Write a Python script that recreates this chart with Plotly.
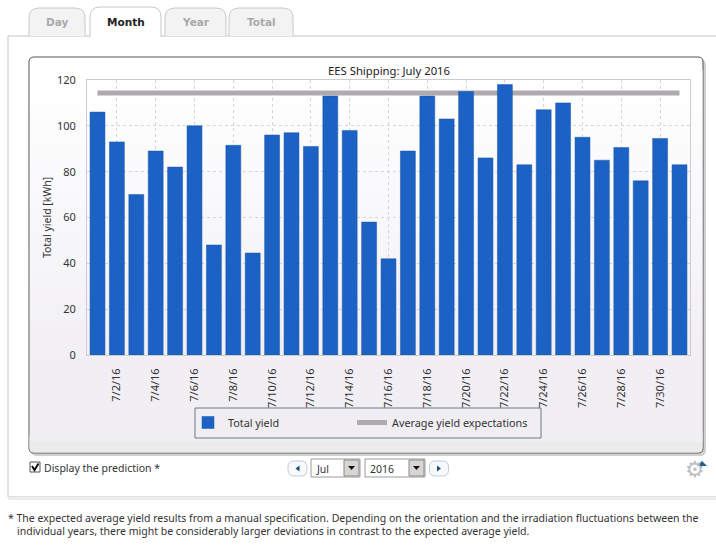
import plotly.graph_objects as go

W, H = 716, 547

# Valores
dias = [f"7/{d}/16" for d in range(1, 32)]
total_yield = [106, 93, 70, 89, 82, 100, 48, 91.5, 44.5, 96, 97, 91, 113, 98, 58, 42,
               89, 113, 103, 115, 86, 118, 83, 107, 110, 95, 85, 90.5, 76, 94.5, 83]
expectativa = [114.3] * 31
dias_ticks = dias[1::2]
y_ticks = [0, 20, 40, 60, 80, 100, 120]

abas = [("Day", 29, 85, 8, 36, "#f3f3f3", "#a9a9a9"),
        ("Month", 90, 161, 7, 37, "#ffffff", "#222222"),
        ("Year", 165, 226, 8, 36, "#f3f3f3", "#a9a9a9"),
        ("Total", 229, 293, 8, 36, "#f3f3f3", "#a9a9a9")]

FONTE = "Noto Sans"
FAIXA_X = [-0.541, 30.541]


def px(x):
    return x / W


def py(y):
    return 1 - y / H


def retangulo(x0, y0, x1, y1, fill="rgba(0,0,0,0)", line="rgba(0,0,0,0)", lw=1, layer="below"):
    return dict(type="rect", xref="paper", yref="paper", x0=px(x0), x1=px(x1), y0=py(y0), y1=py(y1),
                fillcolor=fill, line=dict(color=line, width=lw), layer=layer)


def caminho(pontos, fill="rgba(0,0,0,0)", line="rgba(0,0,0,0)", lw=1, layer="below"):
    # pontos em pixels da página
    d = ""
    for cmd, *xy in pontos:
        d += cmd
        for i in range(0, len(xy), 2):
            d += f"{px(xy[i]):.5f},{py(xy[i + 1]):.5f} "
    return dict(type="path", xref="paper", yref="paper", path=d.strip(), fillcolor=fill,
                line=dict(color=line, width=lw), layer=layer)


def caixa_redonda(x0, y0, x1, y1, r, **kw):
    return caminho([("M", x0 + r, y0), ("L", x1 - r, y0), ("Q", x1, y0, x1, y0 + r), ("L", x1, y1 - r),
                    ("Q", x1, y1, x1 - r, y1), ("L", x0 + r, y1), ("Q", x0, y1, x0, y1 - r),
                    ("L", x0, y0 + r), ("Q", x0, y0, x0 + r, y0), ("Z",)], **kw)


def texto(x, y, s, size=10.5, color="#333333", anchor="left", bold=False, family=FONTE):
    return dict(xref="paper", yref="paper", x=px(x), y=py(y), text=f"<b>{s}</b>" if bold else s,
                showarrow=False, xanchor=anchor, yanchor="middle",
                font=dict(family=family, size=size, color=color))


fig = go.Figure()

# Linha da expectativa média (fica atrás das barras)
fig.add_trace(go.Scatter(x=dias, y=expectativa, mode="lines", name="Average yield expectations",
                         line=dict(color="#aeaaae", width=5), legend="legend2"))

# Barras, em eixos sobrepostos para ficarem por cima da linha
fig.add_trace(go.Bar(x=dias, y=total_yield, name="Total yield", width=0.77, xaxis="x2", yaxis="y2",
                     marker=dict(color="#1c62c4", line=dict(color="#1a55a8", width=0.5))))

shapes = []
anot = []

# Painel externo
shapes.append(retangulo(8, 36, 720, 497, fill="#ffffff", line="#c4c4c4"))
shapes.append(retangulo(8, 497, 720, 500, fill="#ececec"))

# Abas
for nome, x0, x1, y0, y1, fundo, cor in abas:
    r = 10
    shapes.append(caminho([("M", x0, y1), ("L", x0, y0 + r), ("Q", x0, y0, x0 + r, y0), ("L", x1 - r, y0),
                           ("Q", x1, y0, x1, y0 + r), ("L", x1, y1)], fill=fundo, line="#c8c8c8"))
    anot.append(texto((x0 + x1) / 2, 22, nome, size=10.5, color=cor, anchor="center", bold=True, family="DejaVu Sans"))

# Cartão do gráfico com degradê em faixas
shapes.append(caixa_redonda(31, 59, 706, 456, 6, fill="#d0d0d0"))
shapes.append(caixa_redonda(29, 57, 703, 453, 5, fill="#ffffff", line="#555555"))
n_faixas = 24
for i in range(n_faixas):
    y0 = 70 + i * (370 - 70) / n_faixas
    y1 = 70 + (i + 1) * (370 - 70) / n_faixas
    t = i / (n_faixas - 1)
    c = f"rgb({round(255 - 14 * t)},{round(255 - 16 * t)},{round(255 - 11 * t)})"
    shapes.append(retangulo(30, y0, 702.5, y1 + 0.5, fill=c))
shapes.append(retangulo(30, 370, 702.5, 435, fill="#f1eff4"))
shapes.append(caixa_redonda(29.5, 432, 702.5, 452.5, 5, fill="#ebebeb"))
shapes.append(retangulo(30, 432, 702.5, 442, fill="#efeef1"))
shapes.append(retangulo(195, 408, 541, 438, fill="#f0eef3", line="#6f7a86"))

# Controles abaixo do gráfico
shapes.append(retangulo(30, 462, 40, 472, fill="#ffffff", line="#555555"))
shapes.append(caminho([("M", 32, 466), ("L", 34.5, 470), ("L", 38.5, 463.5)], line="#111111", lw=2))
anot.append(texto(42, 468, "Display the prediction *"))

for cx, sinal in ((297.5, -1), (439, 1)):
    shapes.append(caixa_redonda(cx - 9.5, 461, cx + 9.5, 476, 6, fill="#f7f9fb", line="#c3ccd4"))
    shapes.append(caminho([("M", cx - 2 * sinal, 465.5), ("L", cx + 2 * sinal, 468.5),
                           ("L", cx - 2 * sinal, 471.5), ("Z",)], fill="#1b4f85"))

for x0, x1, rotulo in ((311, 360, "Jul"), (365, 425, "2016")):
    shapes.append(retangulo(x0, 459, x1, 477, fill="#ffffff", line="#9a9a9a"))
    shapes.append(retangulo(x1 - 16, 460, x1 - 1, 476, fill="#d8d6d2", line="#8a8a8a"))
    shapes.append(caminho([("M", x1 - 12, 466), ("L", x1 - 5, 466), ("L", x1 - 8.5, 470), ("Z",)], fill="#111111"))
    anot.append(texto(x0 + 3, 468.5, rotulo))

# Ícone de engrenagem
anot.append(texto(695, 469, "⚙", size=22, color="#b9bdc0", anchor="center", family="DejaVu Sans"))
shapes.append(caminho([("M", 697, 466), ("L", 707, 466), ("L", 702, 461), ("Z",)], fill="#1b5f8f"))

# Nota de rodapé
anot.append(texto(6, 518, "* The expected average yield results from a manual specification. Depending on the orientation and the irradiation fluctuations between the"))
anot.append(texto(15, 531, "individual years, there might be considerably larger deviations in contrast to the expected average yield."))

grade = "#d6d6d6"
fonte_legenda = dict(family=FONTE, size=10.8, color="#333333")

fig.update_layout(
    width=W, height=H, autosize=False,
    margin=dict(l=0, r=0, t=0, b=0),
    paper_bgcolor="#ffffff",
    plot_bgcolor="rgba(0,0,0,0)",
    font=dict(family=FONTE, size=11, color="#333333"),
    title=dict(text="EES Shipping: July 2016", x=px(389), xanchor="center", y=py(71), yanchor="middle",
               font=dict(family=FONTE, size=11.3, color="#222222")),
    shapes=shapes,
    annotations=anot,
    showlegend=True,
    legend=dict(orientation="h", x=px(188), y=py(408), xanchor="left", yanchor="top",
                bgcolor="rgba(0,0,0,0)", borderwidth=0, font=fonte_legenda),
    legend2=dict(orientation="h", x=px(352), y=py(408), xanchor="left", yanchor="top",
                 bgcolor="rgba(0,0,0,0)", borderwidth=0, font=fonte_legenda),
    xaxis=dict(domain=[px(87), px(690)], type="category", categoryorder="array", categoryarray=dias,
               range=FAIXA_X, tickmode="array", tickvals=dias_ticks, ticktext=dias_ticks, tickangle=-90,
               ticks="outside", ticklen=8, tickcolor="rgba(0,0,0,0)",
               showgrid=True, gridcolor=grade, griddash="dot", gridwidth=1,
               showline=True, linecolor="#cccccc", mirror=True, automargin=False,
               tickfont=dict(family=FONTE, size=11, color="#333333")),
    yaxis=dict(domain=[py(355), py(80)], range=[0, 120], tickmode="array", tickvals=y_ticks,
               title=dict(text="Total yield [kWh]", standoff=3, font=dict(family=FONTE, size=10.5, color="#333333")),
               showgrid=True, gridcolor=grade, griddash="dot", gridwidth=1, zeroline=False,
               showline=True, linecolor="#cccccc", mirror=True, automargin=False,
               ticks="outside", ticklen=8, tickcolor="rgba(0,0,0,0)",
               tickfont=dict(family=FONTE, size=11, color="#333333")),
    xaxis2=dict(domain=[px(87), px(690)], type="category", categoryorder="array", categoryarray=dias,
                range=FAIXA_X, overlaying="x", anchor="y2", visible=False),
    yaxis2=dict(domain=[py(355), py(80)], range=[0, 120], overlaying="y", anchor="x2", visible=False),
)

fig.write_html("out.html", config=dict(displayModeBar=False),
               post_script="document.body.style.margin='0';document.body.style.overflow='hidden';")
